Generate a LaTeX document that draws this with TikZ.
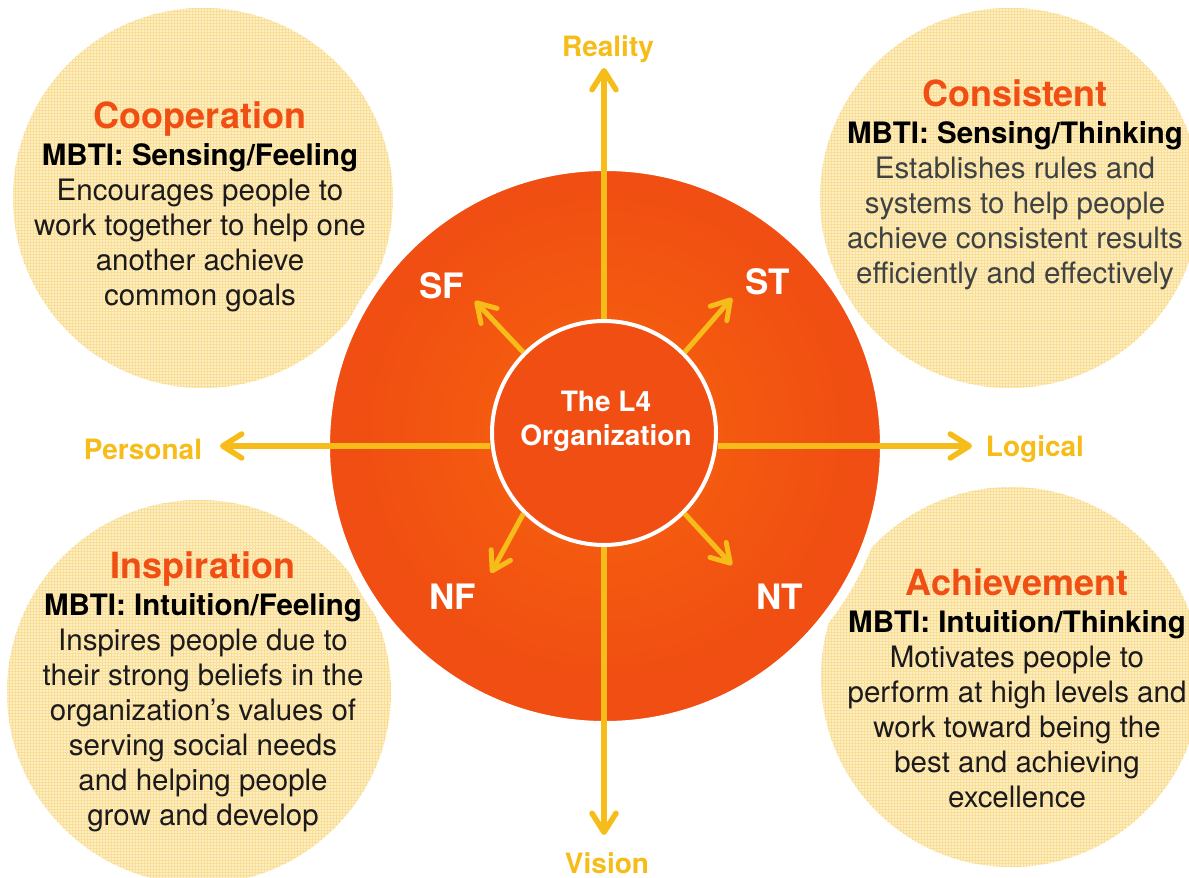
\documentclass[tikz,border=0pt]{standalone}
\usepackage{fontspec}
\setmainfont{TeX Gyre Heros}
\usetikzlibrary{arrows.meta,patterns,positioning}

\definecolor{l4orange}{RGB}{240,78,18}
\definecolor{l4glow}{RGB}{248,100,14}
\definecolor{l4yellow}{RGB}{246,188,26}
\definecolor{cream}{RGB}{253,238,196}
\definecolor{creamgrid}{RGB}{249,222,152}
\definecolor{inkdark}{RGB}{28,26,26}
\definecolor{inkgray}{RGB}{62,66,66}

\tikzset{
  bubble/.style={fill=cream,postaction={pattern=grid,pattern color=creamgrid}},
  axis/.style={draw=l4yellow,line width=5.5pt,-{Straight Barb[round,length=19pt,width=24pt]}},
  spoke/.style={draw=l4yellow,line width=5pt,-{Straight Barb[round,length=18pt,width=22pt]}},
  ringnode/.style={circle,draw=white,fill=l4orange,line width=4pt,minimum size=224pt,inner sep=0pt},
  centertext/.style={text=white,align=center,font=\fontsize{28}{34}\selectfont\bfseries},
  axislabel/.style={text=l4yellow,font=\fontsize{28}{32}\selectfont\bfseries},
  typelabel/.style={text=white,font=\fontsize{35}{40}\selectfont\bfseries},
  titletext/.style={anchor=base,text=l4orange,inner sep=0pt,font=\fontsize{36}{40}\selectfont\bfseries},
  mbtitext/.style={anchor=base,text=black,inner sep=0pt,font=\fontsize{29.5}{32}\selectfont\bfseries},
  bodytext/.style={anchor=base,inner sep=0pt,font=\fontsize{29.5}{32}\selectfont}
}

% #1 name, #2 body colour, #3 x, #4 title baseline, #5 title, #6 mbti line, #7 body lines
\newcommand{\bubbletext}[7]{%
  \node[titletext] (#1-title) at (#3,#4) {#5};
  \node[mbtitext] (#1-mbti) at (#3,#4+37) {#6};
  \foreach \ln [count=\i from 0] in {#7}
    \node[bodytext,text=#2] (#1-body\i) at (#3,{#4+72+35*\i}) {\ln};
}

\begin{document}
\begin{tikzpicture}[x=1pt,y=-1pt]
  \useasboundingbox (0,0) rectangle (1189,878);
  \clip (0,0) rectangle (1189,878);
  % four quadrant bubbles
  \path[bubble] (203,198) circle (190);
  \path[bubble] (1010,198) circle (190);
  \path[bubble] (199,692) circle (192);
  \path[bubble] (1011,677) circle (190);
  % orange disc with a white rim, soft glow round the centre
  \fill[l4orange,draw=white,line width=10pt] (605,446) circle (280);
  \begin{scope}
    \clip (605,446) circle (275);
    \shade[inner color=l4glow,outer color=l4orange] (604,433) circle (250);
  \end{scope}
  \node[ringnode] (org) at (604,433) {};
  \node[centertext] (orgname) at (606,421) {The L4\\Organization};
  % main axes
  \coordinate (realtip) at (604,68);
  \coordinate (vistip) at (604,835);
  \coordinate (perstip) at (220,446);
  \coordinate (logtip) at (972,446);
  \draw[axis] (org.north) -- (realtip);
  \draw[axis] (org.south) -- (vistip);
  \draw[axis] ([yshift=-13pt]org.west) -- (perstip);
  \draw[axis] ([yshift=-13pt]org.east) -- (logtip);
  \node[axislabel] (reality) at (608,49) {Reality};
  \node[axislabel] (vision) at (607,863) {Vision};
  \node[axislabel] (personal) at (143,449) {Personal};
  \node[axislabel] (logical) at (1035,449) {Logical};
  % diagonal spokes to the four types
  \coordinate (sftip) at (475,301);
  \coordinate (sttip) at (732,298);
  \coordinate (nftip) at (491,573);
  \coordinate (nttip) at (732,565);
  \draw[spoke] (org.135) -- (sftip);
  \draw[spoke] (org.45) -- (sttip);
  \draw[spoke] (org.225) -- (nftip);
  \draw[spoke] (org.315) -- (nttip);
  \node[typelabel] (sf) at (442,286) {SF};
  \node[typelabel] (st) at (768,282) {ST};
  \node[typelabel] (nf) at (453,597) {NF};
  \node[typelabel] (nt) at (780,597) {NT};
  % bubble texts
  \bubbletext{coop}{inkdark}{200}{128}{Cooperation}{MBTI: Sensing/Feeling}
    {Encourages people to,work together to help one,another achieve,common goals}
  \bubbletext{cons}{inkgray}{1015}{106}{Consistent}{MBTI: Sensing/Thinking}
    {Establishes rules and,systems to help people,achieve consistent results,efficiently and effectively}
  \bubbletext{insp}{inkdark}{203}{578}{Inspiration}{MBTI: Intuition/Feeling}
    {Inspires people due to,their strong beliefs in the,organization’s values of,serving social needs,and helping people,grow and develop}
  \bubbletext{achv}{inkdark}{1017}{595}{Achievement}{MBTI: Intuition/Thinking}
    {Motivates people to,perform at high levels and,work toward being the,best and achieving,excellence}
\end{tikzpicture}
\end{document}
